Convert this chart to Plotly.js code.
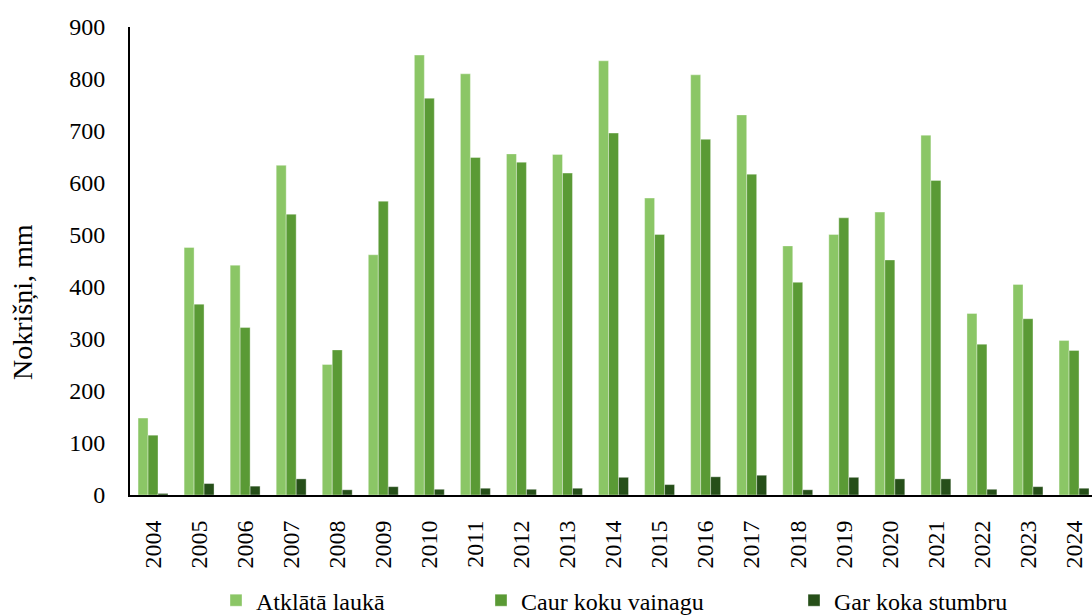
<!DOCTYPE html>
<html>
<head>
<meta charset="utf-8">
<script src="https://cdn.plot.ly/plotly-3.0.1.min.js"></script>
<style>
  html, body { margin: 0; padding: 0; background: #ffffff; }
  #chart { width: 1092px; height: 616px; }
</style>
</head>
<body>
<div id="chart"></div>
<script>
const years = ['2004','2005','2006','2007','2008','2009','2010','2011','2012','2013','2014',
               '2015','2016','2017','2018','2019','2020','2021','2022','2023','2024'];
const atklataLauka = [148, 476, 442, 634, 251, 462, 846, 810, 656, 655, 835,
                      571, 808, 731, 479, 501, 544, 692, 349, 405, 297];
const caurKokuVainagu = [115, 367, 322, 540, 279, 565, 763, 649, 640, 619, 696,
                         501, 684, 617, 409, 533, 452, 605, 290, 339, 278];
const garKokaStumbru = [3, 22, 17, 31, 10, 16, 11, 13, 11, 13, 34,
                        20, 35, 38, 10, 34, 31, 31, 11, 16, 13];

const seriesNames = ['Atklātā laukā', 'Caur koku vainagu', 'Gar koka stumbru'];
const yTitle = 'Nokrišņi, mm';

const FONT = 'Liberation Serif, Times New Roman, serif';
const colors = ['#8BC666', '#5A9A35', '#264F19'];

const traces = [atklataLauka, caurKokuVainagu, garKokaStumbru].map((vals, i) => ({
  type: 'bar',
  x: years,
  y: vals,
  name: seriesNames[i],
  legend: i === 0 ? 'legend' : 'legend' + (i + 1),
  marker: { color: colors[i], line: { color: 'rgba(255,255,255,0.6)', width: 0.6 } },
  hoverinfo: 'x+y+name'
}));

const legendBase = {
  orientation: 'h',
  xref: 'container', yref: 'container',
  xanchor: 'left', yanchor: 'middle',
  y: 0.025,
  bgcolor: 'rgba(0,0,0,0)',
  borderwidth: 0,
  font: { family: FONT, size: 24, color: '#000' }
};

const layout = {
  width: 1092, height: 616,
  margin: { l: 130, r: 0, t: 27, b: 121, pad: 0 },
  paper_bgcolor: '#ffffff',
  plot_bgcolor: '#ffffff',
  font: { family: FONT, size: 24, color: '#000' },
  barmode: 'group',
  bargap: 0.35,
  bargroupgap: 0,
  xaxis: {
    type: 'category',
    range: [-0.5, 20.39],
    showline: true, linecolor: '#000', linewidth: 2,
    showgrid: false, zeroline: false,
    ticks: '',
    tickangle: -90,
    ticklabelstandoff: 14,
    tickfont: { family: FONT, size: 24, color: '#000' }
  },
  yaxis: {
    range: [0, 900],
    dtick: 100,
    tick0: 0,
    showline: true, linecolor: '#000', linewidth: 2,
    showgrid: false, zeroline: false,
    ticks: '',
    ticklabelstandoff: 18,
    tickfont: { family: FONT, size: 24, color: '#000' }
  },
  showlegend: true,
  legend: Object.assign({}, legendBase, { x: 216 / 1092 }),
  legend2: Object.assign({}, legendBase, { x: 481 / 1092 }),
  legend3: Object.assign({}, legendBase, { x: 794 / 1092 }),
  annotations: [{
    text: yTitle,
    xref: 'paper', yref: 'paper',
    x: (22 - 130) / 962, y: (495 - 302) / 468,
    xanchor: 'center', yanchor: 'middle',
    textangle: -90,
    showarrow: false,
    font: { family: FONT, size: 28, color: '#000' }
  }]
};

Plotly.newPlot('chart', traces, layout, { displayModeBar: false, staticPlot: true });
</script>
</body>
</html>
